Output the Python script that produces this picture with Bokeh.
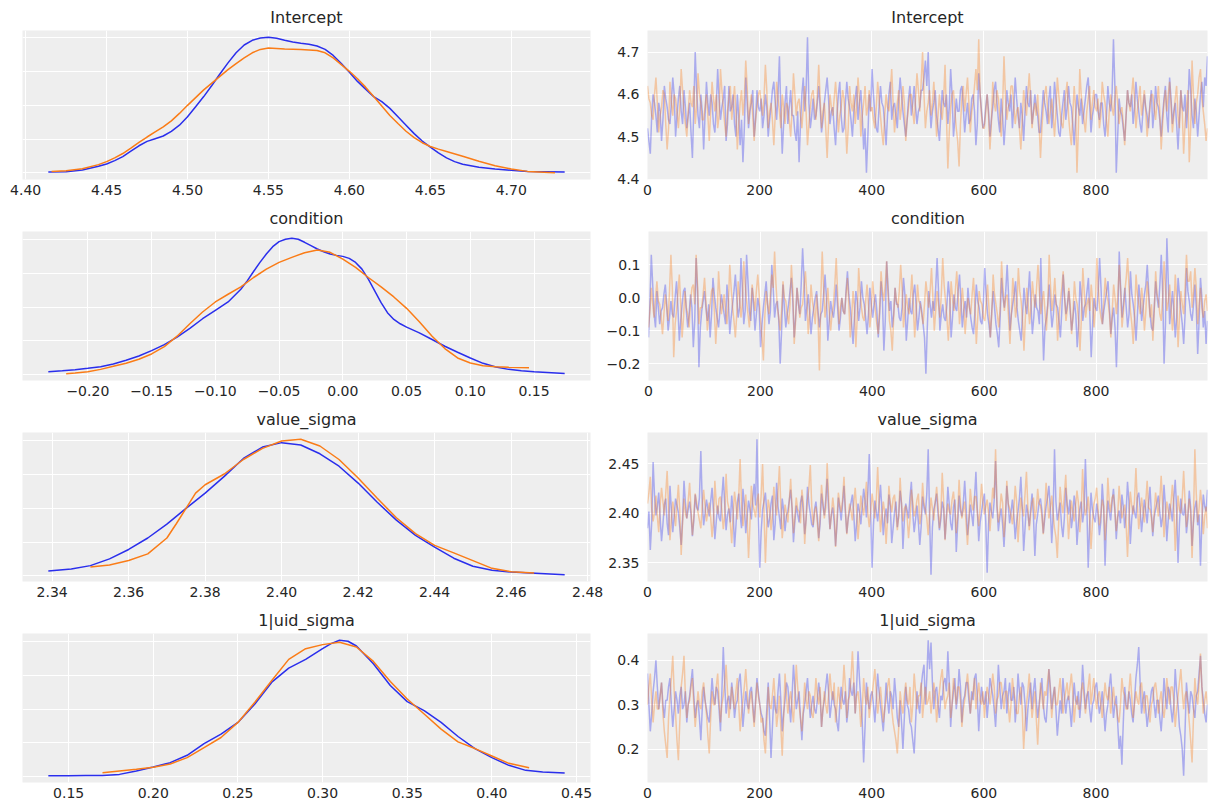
import numpy as np
from bokeh.plotting import figure
from bokeh.layouts import column, row
from bokeh.models import FixedTicker, CustomJSTickFormatter, Range1d
from bokeh.embed import file_html
from bokeh.resources import INLINE

var_names = ["Intercept", "condition", "value_sigma", "1|uid_sigma"]
chain_colors = ["#2a2eec", "#fa7c17"]

# ---------------- KDE curves (x, density) ----------------
kde_intercept_x0 = [4.414,4.425,4.435,4.445,4.45,4.455,4.46,4.465,4.47,4.475,4.48,4.485,4.49,4.495,4.50,4.505,4.51,4.515,4.52,4.525,4.53,4.535,4.54,4.545,4.55,4.555,4.56,4.565,4.57,4.575,4.58,4.585,4.59,4.595,4.60,4.605,4.61,4.615,4.62,4.625,4.63,4.635,4.64,4.645,4.65,4.655,4.66,4.665,4.67,4.68,4.69,4.70,4.71,4.733]
kde_intercept_y0 = [0.04,0.06,0.16,0.38,0.52,0.72,0.96,1.28,1.6,1.86,2.02,2.18,2.46,2.82,3.32,3.92,4.52,5.18,5.86,6.52,7.12,7.58,7.86,8.0,8.04,7.98,7.86,7.76,7.68,7.62,7.52,7.32,6.96,6.48,5.96,5.42,4.96,4.52,4.22,3.82,3.32,2.82,2.32,1.88,1.52,1.18,0.88,0.66,0.5,0.32,0.22,0.14,0.08,0.04]
kde_intercept_x1 = [4.416,4.425,4.435,4.445,4.45,4.455,4.46,4.465,4.47,4.475,4.48,4.485,4.49,4.495,4.50,4.505,4.51,4.515,4.52,4.525,4.53,4.535,4.54,4.545,4.55,4.555,4.56,4.57,4.58,4.585,4.59,4.595,4.60,4.605,4.61,4.615,4.62,4.625,4.63,4.635,4.64,4.645,4.65,4.655,4.66,4.67,4.68,4.69,4.70,4.71,4.727]
kde_intercept_y1 = [0.08,0.12,0.24,0.48,0.66,0.88,1.14,1.46,1.8,2.12,2.42,2.72,3.08,3.52,4.0,4.46,4.92,5.32,5.72,6.12,6.48,6.82,7.12,7.32,7.4,7.38,7.34,7.32,7.26,7.12,6.82,6.42,6.02,5.58,5.08,4.52,3.96,3.4,2.92,2.46,2.08,1.78,1.56,1.4,1.26,0.98,0.68,0.42,0.22,0.08,0.0]

kde_condition_x0 = [-0.231,-0.22,-0.21,-0.20,-0.19,-0.18,-0.17,-0.16,-0.15,-0.14,-0.13,-0.12,-0.11,-0.10,-0.09,-0.08,-0.075,-0.07,-0.065,-0.06,-0.055,-0.05,-0.045,-0.04,-0.035,-0.03,-0.025,-0.02,-0.015,-0.01,-0.005,0.0,0.005,0.01,0.015,0.02,0.025,0.03,0.035,0.04,0.045,0.05,0.06,0.07,0.08,0.09,0.10,0.11,0.12,0.13,0.14,0.15,0.174]
kde_condition_y0 = [0.14,0.2,0.26,0.34,0.44,0.6,0.82,1.08,1.4,1.76,2.2,2.72,3.3,3.8,4.3,5.06,5.56,6.12,6.66,7.16,7.6,7.9,8.04,8.1,8.04,7.86,7.66,7.46,7.3,7.16,7.08,7.02,6.9,6.66,6.26,5.66,4.96,4.26,3.66,3.26,3.0,2.8,2.46,2.06,1.66,1.3,0.96,0.64,0.42,0.28,0.2,0.14,0.04]
kde_condition_x1 = [-0.217,-0.21,-0.20,-0.19,-0.18,-0.17,-0.16,-0.15,-0.14,-0.13,-0.12,-0.11,-0.10,-0.09,-0.08,-0.07,-0.06,-0.05,-0.04,-0.03,-0.02,-0.01,0.0,0.01,0.02,0.03,0.04,0.05,0.06,0.07,0.08,0.09,0.10,0.11,0.12,0.13,0.146]
kde_condition_y1 = [0.02,0.06,0.14,0.28,0.46,0.64,0.88,1.2,1.64,2.26,3.0,3.7,4.3,4.76,5.2,5.76,6.26,6.66,6.96,7.24,7.4,7.26,6.86,6.36,5.76,5.2,4.6,3.92,3.12,2.26,1.52,0.96,0.66,0.5,0.44,0.4,0.38]

kde_vsigma_x0 = [2.339,2.345,2.35,2.355,2.36,2.365,2.37,2.375,2.38,2.385,2.39,2.395,2.40,2.405,2.41,2.415,2.42,2.425,2.43,2.435,2.44,2.445,2.45,2.455,2.46,2.474]
kde_vsigma_y0 = [0.28,0.4,0.6,1.0,1.56,2.24,3.06,4.0,4.9,5.9,6.96,7.64,7.9,7.76,7.24,6.5,5.5,4.36,3.3,2.4,1.7,1.04,0.56,0.32,0.22,0.06]
kde_vsigma_x1 = [2.350,2.355,2.36,2.365,2.37,2.3725,2.375,2.3775,2.38,2.385,2.39,2.395,2.40,2.405,2.41,2.415,2.42,2.425,2.43,2.435,2.44,2.445,2.45,2.455,2.46,2.466]
kde_vsigma_y1 = [0.52,0.64,0.9,1.3,2.24,3.1,4.0,4.9,5.4,6.04,6.9,7.56,8.0,8.1,7.7,6.9,5.8,4.6,3.44,2.5,1.8,1.36,0.9,0.44,0.24,0.16]

kde_uid_x0 = [0.138,0.15,0.16,0.17,0.18,0.19,0.20,0.21,0.22,0.23,0.24,0.25,0.26,0.27,0.28,0.29,0.30,0.305,0.31,0.315,0.32,0.33,0.34,0.35,0.36,0.37,0.38,0.39,0.40,0.41,0.42,0.43,0.443]
kde_uid_y0 = [0.02,0.02,0.04,0.04,0.1,0.3,0.54,0.8,1.24,1.94,2.5,3.2,4.3,5.6,6.44,6.96,7.6,7.9,8.1,8.04,7.76,6.7,5.4,4.44,3.9,3.2,2.36,1.64,1.1,0.64,0.34,0.24,0.18]
kde_uid_x1 = [0.170,0.18,0.19,0.20,0.21,0.22,0.23,0.24,0.25,0.26,0.27,0.28,0.29,0.30,0.31,0.32,0.33,0.34,0.35,0.36,0.37,0.38,0.39,0.40,0.41,0.422]
kde_uid_y1 = [0.2,0.3,0.4,0.52,0.72,1.1,1.7,2.3,3.2,4.4,5.7,6.96,7.6,7.84,7.98,7.7,6.84,5.64,4.6,3.7,2.8,2.04,1.64,1.2,0.76,0.5]

# ---------------- Trace samples (every 2.5th draw) ----------------
trace_intercept_0 = [
    4.52,4.49,4.46,4.55,4.60,4.58,4.55,4.51,4.58,4.56,4.49,4.54,4.62,4.59,4.57,4.54,4.53,4.58,4.64,4.60,4.50,4.55,4.59,4.62,4.56,4.53,4.61,4.57,4.52,4.55,4.58,4.51,4.45,4.57,4.70,4.61,4.55,4.52,4.60,4.56,
    4.47,4.55,4.63,4.58,4.55,4.60,4.58,4.53,4.51,4.57,4.66,4.59,4.54,4.57,4.59,4.62,4.49,4.53,4.62,4.56,4.57,4.60,4.53,4.50,4.60,4.55,4.48,4.54,4.44,4.52,4.64,4.58,4.52,4.56,4.58,4.61,4.50,4.54,4.61,4.57,
    4.56,4.59,4.52,4.55,4.60,4.57,4.50,4.54,4.57,4.61,4.63,4.58,4.54,4.60,4.69,4.56,4.46,4.53,4.58,4.62,4.53,4.57,4.61,4.55,4.55,4.51,4.49,4.56,4.44,4.53,4.60,4.64,4.56,4.61,4.735,4.58,4.52,4.55,4.59,4.54,
    4.55,4.58,4.62,4.57,4.51,4.54,4.58,4.61,4.64,4.59,4.53,4.56,4.57,4.52,4.48,4.55,4.60,4.63,4.55,4.51,4.52,4.58,4.63,4.59,4.57,4.54,4.50,4.56,4.59,4.62,4.54,4.58,4.61,4.55,4.47,4.52,4.415,4.50,4.60,4.56,
    4.66,4.60,4.55,4.52,4.51,4.57,4.62,4.58,4.57,4.53,4.48,4.55,4.60,4.63,4.54,4.57,4.58,4.55,4.52,4.59,4.64,4.60,4.56,4.53,4.50,4.54,4.59,4.62,4.55,4.58,4.62,4.57,4.53,4.56,4.57,4.61,4.61,4.64,4.68,4.62,
    4.70,4.58,4.52,4.56,4.58,4.61,4.55,4.52,4.49,4.55,4.61,4.58,4.57,4.60,4.53,4.57,4.66,4.60,4.50,4.54,4.59,4.56,4.56,4.61,4.62,4.57,4.51,4.55,4.58,4.53,4.54,4.59,4.60,4.56,4.48,4.53,4.65,4.60,4.56,4.52,
    4.53,4.57,4.60,4.56,4.50,4.54,4.57,4.61,4.63,4.58,4.54,4.51,4.59,4.55,4.48,4.53,4.61,4.58,4.56,4.60,4.52,4.57,4.64,4.59,4.55,4.52,4.58,4.55,4.49,4.56,4.62,4.58,4.57,4.61,4.53,4.56,4.60,4.57,4.55,4.51,
    4.51,4.56,4.61,4.58,4.56,4.53,4.59,4.62,4.52,4.56,4.63,4.59,4.55,4.51,4.50,4.55,4.58,4.61,4.54,4.57,4.62,4.58,4.57,4.53,4.48,4.54,4.60,4.57,4.55,4.59,4.53,4.56,4.59,4.62,4.64,4.58,4.51,4.55,4.57,4.60,
    4.60,4.56,4.54,4.58,4.58,4.53,4.50,4.55,4.62,4.58,4.56,4.60,4.73,4.62,4.415,4.50,4.59,4.56,4.55,4.52,4.49,4.55,4.61,4.58,4.57,4.60,4.53,4.57,4.63,4.59,4.56,4.53,4.51,4.56,4.60,4.57,4.55,4.52,4.58,4.61,
    4.52,4.56,4.62,4.58,4.57,4.54,4.50,4.55,4.59,4.62,4.55,4.51,4.64,4.59,4.53,4.56,4.58,4.53,4.47,4.54,4.61,4.57,4.56,4.60,4.52,4.57,4.66,4.61,4.55,4.52,4.59,4.56,4.50,4.55,4.60,4.63,4.57,4.64,4.62,4.69]
trace_intercept_1 = [
    4.62,4.59,4.58,4.55,4.54,4.60,4.64,4.58,4.51,4.55,4.57,4.61,4.60,4.53,4.47,4.52,4.63,4.58,4.55,4.60,4.59,4.56,4.52,4.57,4.66,4.61,4.56,4.53,4.50,4.56,4.61,4.58,4.57,4.62,4.53,4.57,4.65,4.60,4.58,4.54,
    4.54,4.57,4.60,4.55,4.49,4.56,4.63,4.59,4.56,4.60,4.52,4.55,4.66,4.61,4.57,4.53,4.50,4.56,4.59,4.62,4.54,4.58,4.62,4.56,4.47,4.53,4.58,4.61,4.55,4.59,4.68,4.62,4.53,4.57,4.60,4.55,4.49,4.54,4.57,4.60,
    4.61,4.58,4.55,4.59,4.67,4.61,4.52,4.56,4.58,4.54,4.48,4.55,4.63,4.59,4.56,4.52,4.60,4.57,4.53,4.58,4.57,4.54,4.50,4.56,4.65,4.60,4.55,4.58,4.59,4.55,4.52,4.57,4.62,4.56,4.48,4.53,4.57,4.60,4.61,4.57,
    4.54,4.60,4.67,4.59,4.52,4.56,4.58,4.52,4.45,4.53,4.60,4.57,4.55,4.59,4.63,4.58,4.51,4.55,4.57,4.61,4.59,4.54,4.46,4.52,4.62,4.58,4.56,4.60,4.53,4.57,4.64,4.59,4.50,4.55,4.58,4.62,4.55,4.57,4.61,4.56,
    4.57,4.54,4.52,4.57,4.63,4.59,4.55,4.51,4.48,4.55,4.60,4.57,4.56,4.61,4.66,4.58,4.51,4.55,4.58,4.61,4.54,4.57,4.62,4.58,4.49,4.54,4.57,4.60,4.60,4.56,4.53,4.59,4.65,4.61,4.56,4.63,4.70,4.60,4.52,4.56,
    4.58,4.61,4.55,4.58,4.63,4.57,4.50,4.55,4.60,4.56,4.54,4.59,4.67,4.55,4.425,4.51,4.57,4.60,4.61,4.56,4.52,4.49,4.43,4.53,4.59,4.62,4.56,4.60,4.64,4.58,4.51,4.56,4.58,4.62,4.66,4.61,4.73,4.60,4.55,4.52,
    4.52,4.56,4.60,4.55,4.47,4.53,4.63,4.58,4.56,4.61,4.59,4.55,4.50,4.57,4.69,4.60,4.54,4.57,4.58,4.62,4.62,4.57,4.53,4.56,4.57,4.52,4.47,4.54,4.61,4.58,4.55,4.60,4.65,4.59,4.52,4.56,4.58,4.55,4.60,4.53,
    4.45,4.52,4.57,4.60,4.62,4.57,4.53,4.56,4.59,4.55,4.50,4.56,4.64,4.60,4.56,4.53,4.52,4.57,4.60,4.63,4.55,4.51,4.48,4.55,4.62,4.57,4.415,4.52,4.66,4.60,4.57,4.54,4.51,4.56,4.59,4.62,4.54,4.58,4.61,4.57,
    4.56,4.59,4.52,4.55,4.63,4.60,4.58,4.54,4.50,4.56,4.60,4.57,4.55,4.59,4.62,4.58,4.53,4.56,4.57,4.53,4.48,4.55,4.61,4.58,4.56,4.60,4.64,4.59,4.52,4.56,4.59,4.62,4.55,4.58,4.61,4.56,4.50,4.54,4.57,4.60,
    4.60,4.57,4.54,4.58,4.62,4.56,4.47,4.53,4.58,4.61,4.56,4.60,4.63,4.58,4.51,4.55,4.59,4.62,4.55,4.52,4.61,4.56,4.46,4.53,4.57,4.61,4.44,4.52,4.68,4.60,4.53,4.58,4.60,4.64,4.66,4.59,4.56,4.53,4.49,4.52]

trace_condition_0 = [
    -0.12,-0.02,0.13,0.04,-0.05,-0.09,0.02,-0.03,-0.08,-0.04,-0.03,0.01,0.04,-0.02,-0.10,-0.06,-0.01,-0.05,-0.06,0.00,0.05,-0.03,-0.13,-0.07,-0.02,0.02,0.03,-0.04,-0.09,-0.05,0.01,-0.03,-0.15,-0.07,0.12,0.02,-0.21,-0.09,-0.04,-0.01,
    0.02,-0.03,-0.07,-0.02,-0.12,-0.05,0.06,0.01,-0.03,-0.06,-0.09,-0.04,0.01,-0.02,-0.05,-0.08,0.04,-0.01,-0.11,-0.06,-0.02,0.02,0.07,0.00,-0.06,-0.03,0.12,0.03,-0.08,-0.04,0.13,0.05,-0.04,-0.07,0.03,-0.02,-0.10,-0.05,0.00,-0.03,
    -0.15,-0.08,-0.03,0.01,0.05,-0.02,-0.08,-0.04,0.10,0.03,-0.06,-0.02,-0.01,-0.07,-0.20,-0.10,0.04,-0.03,-0.09,-0.05,-0.02,0.02,0.06,-0.01,-0.12,-0.06,0.03,-0.02,-0.05,0.04,0.15,0.06,-0.07,-0.03,0.01,-0.04,-0.11,-0.06,-0.03,0.00,
    0.02,-0.04,-0.09,-0.05,-0.04,0.01,0.07,0.00,-0.13,-0.07,-0.01,-0.04,-0.06,-0.02,0.04,-0.03,-0.10,-0.06,0.00,-0.04,-0.05,0.02,0.08,0.01,-0.03,-0.08,-0.14,-0.06,0.02,-0.01,-0.07,-0.03,0.05,0.00,-0.02,-0.06,-0.11,-0.05,0.03,-0.02,
    -0.06,-0.02,0.01,-0.04,-0.12,-0.05,0.05,-0.01,-0.16,-0.07,0.11,0.03,-0.04,-0.01,-0.09,-0.05,0.03,-0.02,-0.02,-0.06,-0.07,-0.03,0.06,0.01,-0.13,-0.07,0.00,-0.04,-0.05,0.01,0.04,-0.02,-0.10,-0.06,-0.01,-0.04,-0.08,-0.12,-0.23,-0.09,
    0.02,-0.02,-0.06,-0.01,-0.04,0.03,0.12,0.02,-0.10,-0.05,-0.02,-0.06,-0.07,-0.02,0.05,0.00,-0.12,-0.06,0.01,-0.03,-0.04,0.02,0.07,-0.01,-0.09,-0.04,-0.01,-0.06,0.03,-0.02,-0.06,-0.09,-0.11,-0.04,0.04,-0.01,-0.03,-0.07,-0.08,-0.02,
    0.09,0.01,-0.05,-0.08,-0.12,-0.04,0.02,-0.03,-0.08,-0.11,-0.15,-0.06,0.06,0.00,-0.03,0.02,0.10,0.01,-0.10,-0.05,-0.02,0.01,0.05,-0.03,-0.07,-0.10,-0.13,-0.05,0.03,-0.02,-0.05,0.01,0.08,-0.02,-0.11,-0.06,0.01,-0.03,-0.04,-0.08,
    0.12,-0.04,-0.19,-0.09,-0.06,-0.02,0.04,-0.03,-0.09,-0.05,0.01,-0.02,-0.03,-0.07,-0.12,-0.04,0.07,0.00,-0.05,-0.02,0.02,-0.04,-0.10,-0.06,-0.01,-0.05,-0.15,-0.08,0.05,0.00,-0.07,-0.03,-0.02,0.02,0.06,-0.05,-0.18,-0.08,0.00,-0.03,
    -0.04,0.02,0.12,0.03,-0.08,-0.04,-0.01,0.02,0.05,-0.03,-0.11,-0.06,-0.03,-0.09,-0.21,-0.07,0.14,0.03,-0.06,-0.02,0.03,-0.03,-0.09,-0.05,0.08,0.01,-0.02,-0.06,-0.13,-0.05,0.04,-0.01,-0.07,-0.03,0.01,0.04,0.10,0.02,-0.05,-0.09,
    -0.10,-0.03,0.05,0.00,-0.03,0.04,0.13,0.02,-0.20,-0.08,0.18,0.05,-0.08,-0.03,0.02,-0.04,-0.12,-0.06,0.06,0.01,-0.04,-0.08,-0.14,-0.05,0.09,0.02,-0.01,-0.05,-0.07,-0.02,0.04,-0.03,-0.17,-0.07,0.06,0.00,-0.09,-0.04,-0.14,-0.07]
trace_condition_1 = [
    -0.09,-0.04,0.03,-0.02,-0.06,0.00,0.05,-0.01,-0.02,-0.06,-0.11,-0.05,0.01,-0.03,-0.07,0.02,0.13,0.03,-0.18,-0.08,-0.04,0.01,0.07,-0.02,-0.12,-0.06,0.02,-0.03,-0.05,-0.09,-0.01,0.03,0.04,-0.02,0.13,0.04,-0.08,-0.03,-0.03,0.01,
    0.06,-0.01,-0.10,-0.05,-0.02,0.02,0.03,-0.04,-0.14,-0.06,0.08,0.01,-0.05,-0.02,0.01,-0.04,-0.08,-0.02,0.10,0.03,-0.03,-0.07,-0.12,-0.05,0.05,0.00,-0.06,-0.02,0.11,0.04,-0.01,-0.05,-0.09,-0.03,0.04,0.00,-0.04,0.02,0.07,0.01,
    -0.07,-0.12,-0.19,-0.06,0.02,-0.02,-0.05,0.01,0.07,0.03,0.14,0.04,-0.03,-0.06,-0.10,-0.04,0.05,0.00,-0.01,-0.05,-0.08,-0.02,0.10,0.02,-0.14,-0.07,0.03,-0.01,-0.06,-0.03,-0.02,0.03,0.08,0.01,-0.11,-0.05,0.04,-0.01,-0.04,-0.08,
    0.01,-0.06,-0.22,0.00,0.14,0.03,-0.06,-0.02,0.03,-0.04,-0.10,-0.05,-0.02,0.04,0.12,0.01,-0.08,-0.03,0.00,-0.04,-0.05,0.01,0.06,-0.02,-0.12,-0.06,0.02,-0.03,-0.15,-0.06,0.09,0.02,-0.03,-0.06,-0.07,-0.01,0.04,-0.02,-0.09,-0.04,
    0.05,0.00,-0.04,-0.08,-0.11,-0.03,0.08,0.02,-0.01,0.04,0.11,0.01,-0.07,-0.10,-0.16,-0.06,0.03,-0.01,-0.03,0.02,0.10,0.03,-0.09,-0.04,0.01,-0.03,-0.05,0.00,0.07,-0.02,-0.12,-0.05,0.04,-0.01,-0.02,-0.05,-0.08,-0.02,0.05,0.01,
    -0.03,0.02,0.09,0.00,-0.10,-0.04,0.02,-0.02,-0.06,0.01,0.12,0.04,-0.01,-0.06,-0.13,-0.05,0.05,0.00,-0.04,0.02,0.08,0.01,-0.08,-0.03,0.03,-0.02,-0.11,-0.05,0.00,-0.03,-0.05,0.01,0.06,-0.03,-0.14,-0.06,0.02,-0.01,-0.02,-0.06,
    -0.07,-0.02,0.04,-0.03,-0.12,-0.05,0.07,0.01,-0.02,-0.05,-0.09,-0.03,0.11,0.03,-0.04,0.00,0.01,-0.06,-0.14,-0.05,0.06,0.01,-0.06,-0.02,0.09,0.02,-0.01,-0.07,-0.16,-0.06,0.03,-0.02,-0.08,-0.03,0.05,0.00,-0.03,0.03,0.10,0.02,
    -0.05,-0.01,0.02,-0.04,-0.10,-0.02,0.13,0.03,-0.04,0.00,0.06,-0.02,-0.13,-0.06,-0.01,0.03,0.08,0.00,-0.07,-0.03,0.03,-0.02,-0.11,-0.05,0.05,0.00,-0.02,-0.07,-0.16,-0.06,0.09,0.02,-0.06,-0.02,0.00,-0.04,0.04,-0.01,-0.09,-0.03,
    0.12,0.03,-0.03,-0.06,-0.08,-0.01,0.06,0.01,-0.01,-0.05,-0.12,-0.04,0.04,0.00,-0.05,0.01,0.10,0.02,-0.09,-0.04,0.02,0.06,0.12,0.03,-0.04,-0.08,-0.14,-0.05,0.07,0.01,-0.02,-0.05,0.03,-0.02,-0.10,-0.04,0.05,0.00,-0.06,-0.02,
    -0.13,-0.04,0.08,0.01,-0.01,-0.05,-0.07,0.00,0.11,0.03,-0.04,-0.01,0.04,-0.03,-0.10,-0.04,0.07,0.00,-0.15,-0.06,0.02,-0.02,-0.05,0.03,0.13,0.05,0.05,0.08,-0.03,0.02,0.09,0.03,-0.08,-0.02,0.03,-0.03,-0.06,-0.01,0.01,-0.04]

trace_vsigma_0 = [
    2.385,2.402,2.363,2.391,2.452,2.418,2.398,2.407,2.421,2.396,2.372,2.389,2.409,2.415,2.390,2.378,2.428,2.404,2.381,2.397,2.415,2.408,2.401,2.386,2.368,2.394,2.433,2.411,2.395,2.404,2.412,2.399,2.377,2.393,2.419,2.406,2.403,2.416,2.463,2.412,
    2.388,2.400,2.414,2.405,2.397,2.412,2.426,2.403,2.374,2.392,2.408,2.396,2.392,2.417,2.437,2.410,2.383,2.399,2.405,2.391,2.418,2.402,2.366,2.387,2.411,2.420,2.399,2.385,2.425,2.409,2.380,2.397,2.413,2.404,2.394,2.415,2.430,2.408,2.475,2.398,
    2.345,2.382,2.404,2.412,2.421,2.401,2.386,2.395,2.410,2.418,2.373,2.390,2.431,2.407,2.396,2.384,2.415,2.403,2.382,2.398,2.402,2.413,2.424,2.405,2.371,2.392,2.408,2.399,2.391,2.411,2.418,2.402,2.379,2.394,2.427,2.410,2.400,2.389,2.386,2.404,
    2.412,2.397,2.375,2.390,2.420,2.408,2.398,2.414,2.435,2.406,2.384,2.399,2.406,2.392,2.367,2.388,2.416,2.405,2.393,2.410,2.428,2.401,2.380,2.395,2.403,2.411,2.419,2.398,2.372,2.390,2.410,2.402,2.389,2.407,2.425,2.413,2.396,2.421,2.460,2.405,
    2.345,2.388,2.413,2.402,2.392,2.409,2.429,2.404,2.378,2.396,2.405,2.390,2.419,2.407,2.370,2.385,2.401,2.412,2.386,2.398,2.423,2.410,2.364,2.393,2.410,2.403,2.395,2.416,2.432,2.400,2.381,2.394,2.408,2.391,2.368,2.387,2.417,2.406,2.399,2.420,
    2.465,2.395,2.338,2.386,2.404,2.411,2.420,2.400,2.383,2.394,2.412,2.405,2.374,2.397,2.427,2.409,2.390,2.383,2.406,2.414,2.361,2.389,2.418,2.403,2.397,2.410,2.433,2.407,2.378,2.392,2.409,2.399,2.387,2.416,2.442,2.404,2.372,2.391,2.401,2.412,
    2.420,2.392,2.340,2.388,2.411,2.402,2.395,2.413,2.453,2.407,2.382,2.396,2.405,2.389,2.366,2.393,2.428,2.410,2.390,2.401,2.414,2.398,2.374,2.391,2.402,2.415,2.437,2.406,2.362,2.385,2.409,2.400,2.387,2.404,2.420,2.397,2.357,2.389,2.399,2.411,
    2.415,2.403,2.380,2.394,2.407,2.416,2.428,2.405,2.370,2.398,2.465,2.412,2.393,2.401,2.411,2.388,2.376,2.395,2.426,2.409,2.399,2.414,2.385,2.397,2.418,2.406,2.368,2.390,2.404,2.412,2.391,2.402,2.455,2.410,2.345,2.387,2.421,2.404,2.396,2.391,
    2.410,2.399,2.378,2.392,2.430,2.408,2.347,2.389,2.413,2.402,2.393,2.411,2.425,2.404,2.374,2.396,2.403,2.390,2.419,2.407,2.385,2.400,2.432,2.413,2.369,2.394,2.408,2.401,2.395,2.416,2.421,2.405,2.381,2.397,2.414,2.403,2.390,2.409,2.427,2.401,
    2.377,2.396,2.404,2.411,2.418,2.401,2.386,2.397,2.429,2.408,2.372,2.393,2.410,2.402,2.392,2.415,2.434,2.405,2.350,2.389,2.415,2.400,2.398,2.410,2.380,2.394,2.423,2.406,2.367,2.391,2.406,2.413,2.388,2.399,2.347,2.392,2.419,2.407,2.402,2.424]
trace_vsigma_1 = [
    2.410,2.421,2.437,2.405,2.392,2.401,2.418,2.397,2.381,2.408,2.426,2.412,2.398,2.420,2.443,2.406,2.373,2.394,2.412,2.402,2.387,2.409,2.429,2.403,2.358,2.391,2.415,2.400,2.395,2.413,2.431,2.404,2.378,2.396,2.420,2.411,2.401,2.393,2.385,2.407,
    2.424,2.408,2.392,2.402,2.411,2.396,2.376,2.393,2.433,2.410,2.399,2.415,2.417,2.403,2.384,2.397,2.440,2.412,2.405,2.390,2.370,2.398,2.422,2.409,2.394,2.417,2.455,2.411,2.387,2.401,2.419,2.395,2.355,2.389,2.428,2.410,2.403,2.396,2.412,2.420,
    2.396,2.419,2.450,2.403,2.350,2.388,2.414,2.405,2.383,2.398,2.427,2.410,2.398,2.421,2.448,2.407,2.375,2.392,2.409,2.400,2.391,2.412,2.435,2.406,2.380,2.397,2.416,2.404,2.402,2.390,2.424,2.411,2.369,2.395,2.413,2.426,2.449,2.408,2.388,2.401,
    2.407,2.391,2.372,2.399,2.429,2.412,2.395,2.406,2.451,2.417,2.384,2.398,2.416,2.403,2.366,2.392,2.421,2.409,2.401,2.414,2.437,2.405,2.379,2.396,2.410,2.402,2.393,2.411,2.426,2.404,2.374,2.394,2.418,2.407,2.398,2.413,2.432,2.400,2.386,2.403,
    2.420,2.408,2.395,2.413,2.447,2.410,2.381,2.397,2.412,2.401,2.369,2.394,2.428,2.411,2.401,2.415,2.419,2.402,2.383,2.398,2.436,2.409,2.392,2.405,2.408,2.396,2.375,2.393,2.424,2.412,2.397,2.403,2.414,2.420,2.389,2.399,2.431,2.410,2.404,2.395,
    2.378,2.398,2.416,2.405,2.393,2.411,2.427,2.408,2.385,2.400,2.441,2.412,2.373,2.396,2.410,2.402,2.399,2.414,2.422,2.406,2.380,2.397,2.434,2.410,2.395,2.403,2.412,2.390,2.368,2.395,2.425,2.409,2.403,2.417,2.417,2.401,2.387,2.406,2.430,2.412,
    2.399,2.407,2.414,2.401,2.382,2.403,2.426,2.415,2.465,2.409,2.391,2.402,2.420,2.411,2.376,2.396,2.433,2.410,2.405,2.398,2.389,2.404,2.428,2.412,2.371,2.394,2.416,2.405,2.397,2.420,2.442,2.407,2.383,2.399,2.411,2.416,2.394,2.403,2.425,2.410,
    2.408,2.397,2.379,2.402,2.431,2.412,2.395,2.406,2.418,2.399,2.385,2.376,2.355,2.393,2.427,2.410,2.400,2.418,2.439,2.405,2.374,2.396,2.413,2.402,2.392,2.408,2.423,2.411,2.381,2.400,2.445,2.413,2.398,2.405,2.417,2.396,2.364,2.390,2.409,2.415,
    2.426,2.405,2.388,2.399,2.414,2.407,2.373,2.395,2.436,2.412,2.401,2.416,2.419,2.403,2.382,2.397,2.428,2.410,2.395,2.402,2.409,2.390,2.356,2.393,2.422,2.408,2.399,2.413,2.446,2.410,2.384,2.398,2.416,2.404,2.391,2.411,2.433,2.406,2.404,2.396,
    2.381,2.400,2.421,2.409,2.397,2.414,2.438,2.410,2.376,2.398,2.412,2.403,2.394,2.411,2.429,2.406,2.362,2.393,2.418,2.404,2.400,2.415,2.443,2.412,2.386,2.399,2.415,2.402,2.355,2.395,2.465,2.420,2.391,2.405,2.424,2.408,2.379,2.397,2.407,2.385]

trace_uid_0 = [
    0.37,0.30,0.24,0.28,0.33,0.36,0.40,0.34,0.29,0.32,0.35,0.30,0.27,0.31,0.31,0.34,0.36,0.30,0.25,0.29,0.33,0.31,0.28,0.32,0.34,0.29,0.30,0.33,0.26,0.30,0.32,0.35,0.38,0.32,0.27,0.30,0.31,0.27,0.22,0.29,
    0.34,0.31,0.29,0.27,0.26,0.31,0.36,0.32,0.30,0.34,0.33,0.29,0.24,0.33,0.43,0.35,0.28,0.31,0.32,0.29,0.35,0.32,0.27,0.30,0.31,0.35,0.37,0.32,0.25,0.29,0.33,0.30,0.29,0.33,0.34,0.30,0.26,0.31,0.36,0.33,
    0.30,0.28,0.27,0.24,0.23,0.29,0.35,0.27,0.18,0.25,0.32,0.29,0.28,0.33,0.37,0.31,0.24,0.28,0.31,0.35,0.34,0.30,0.26,0.32,0.39,0.34,0.29,0.31,0.33,0.27,0.22,0.28,0.30,0.33,0.36,0.31,0.27,0.30,0.32,0.29,
    0.28,0.31,0.35,0.32,0.25,0.29,0.31,0.34,0.37,0.33,0.27,0.30,0.33,0.30,0.29,0.26,0.24,0.30,0.34,0.31,0.30,0.33,0.26,0.29,0.36,0.33,0.32,0.35,0.28,0.34,0.42,0.36,0.31,0.26,0.17,0.25,0.35,0.31,0.29,0.32,
    0.33,0.30,0.26,0.31,0.37,0.33,0.30,0.27,0.24,0.29,0.35,0.31,0.28,0.33,0.32,0.29,0.36,0.32,0.27,0.25,0.31,0.26,0.20,0.27,0.34,0.30,0.29,0.26,0.25,0.22,0.19,0.26,0.33,0.30,0.28,0.34,0.37,0.39,0.30,0.36,
    0.445,0.38,0.44,0.35,0.29,0.33,0.34,0.30,0.27,0.32,0.31,0.35,0.36,0.33,0.42,0.35,0.25,0.30,0.33,0.36,0.29,0.32,0.38,0.34,0.26,0.31,0.32,0.35,0.35,0.31,0.28,0.33,0.31,0.36,0.37,0.32,0.24,0.30,0.34,0.31,
    0.30,0.33,0.27,0.31,0.36,0.34,0.32,0.29,0.25,0.31,0.39,0.34,0.29,0.32,0.33,0.36,0.28,0.32,0.35,0.31,0.31,0.34,0.26,0.30,0.37,0.33,0.30,0.35,0.34,0.30,0.24,0.29,0.32,0.35,0.29,0.33,0.36,0.31,0.27,0.30,
    0.33,0.36,0.30,0.27,0.26,0.31,0.38,0.34,0.29,0.32,0.34,0.29,0.23,0.27,0.31,0.28,0.36,0.32,0.28,0.31,0.32,0.29,0.25,0.30,0.35,0.31,0.30,0.33,0.27,0.31,0.39,0.34,0.29,0.32,0.33,0.29,0.26,0.30,0.31,0.34,
    0.35,0.31,0.28,0.30,0.33,0.29,0.24,0.28,0.30,0.34,0.37,0.32,0.27,0.30,0.32,0.26,0.20,0.23,0.165,0.26,0.34,0.30,0.29,0.33,0.31,0.28,0.26,0.31,0.36,0.39,0.43,0.35,0.28,0.31,0.33,0.29,0.25,0.28,0.30,0.33,
    0.34,0.30,0.27,0.31,0.31,0.27,0.24,0.29,0.36,0.32,0.29,0.34,0.33,0.29,0.26,0.30,0.38,0.33,0.30,0.25,0.23,0.20,0.14,0.24,0.35,0.31,0.28,0.33,0.32,0.29,0.27,0.32,0.33,0.37,0.41,0.34,0.31,0.28,0.26,0.30]
trace_uid_1 = [
    0.30,0.34,0.37,0.31,0.26,0.30,0.33,0.29,0.29,0.32,0.35,0.28,0.24,0.21,0.18,0.27,0.32,0.36,0.41,0.33,0.28,0.22,0.175,0.26,0.34,0.37,0.41,0.32,0.27,0.30,0.31,0.34,0.36,0.30,0.25,0.29,0.33,0.30,0.29,0.33,
    0.35,0.31,0.28,0.23,0.19,0.27,0.33,0.30,0.30,0.34,0.37,0.31,0.26,0.30,0.32,0.35,0.39,0.33,0.27,0.30,0.34,0.31,0.29,0.33,0.36,0.30,0.24,0.28,0.31,0.34,0.38,0.33,0.28,0.31,0.33,0.29,0.25,0.30,0.35,0.32,
    0.30,0.26,0.27,0.22,0.19,0.26,0.34,0.30,0.29,0.32,0.36,0.31,0.25,0.28,0.32,0.25,0.185,0.27,0.37,0.32,0.28,0.31,0.33,0.29,0.26,0.32,0.39,0.34,0.30,0.27,0.24,0.29,0.35,0.31,0.29,0.33,0.32,0.28,0.27,0.31,
    0.36,0.32,0.30,0.34,0.25,0.29,0.33,0.30,0.28,0.32,0.37,0.33,0.31,0.35,0.26,0.30,0.34,0.31,0.29,0.33,0.39,0.34,0.27,0.31,0.32,0.36,0.42,0.35,0.28,0.32,0.33,0.30,0.25,0.29,0.36,0.32,0.30,0.34,0.27,0.30,
    0.32,0.35,0.38,0.33,0.28,0.31,0.34,0.30,0.26,0.29,0.31,0.34,0.36,0.32,0.29,0.26,0.24,0.22,0.19,0.25,0.33,0.30,0.28,0.32,0.35,0.31,0.30,0.34,0.26,0.30,0.37,0.33,0.29,0.32,0.32,0.35,0.27,0.31,0.34,0.30,
    0.31,0.33,0.28,0.31,0.35,0.32,0.26,0.30,0.33,0.36,0.38,0.33,0.29,0.31,0.32,0.35,0.27,0.30,0.36,0.33,0.30,0.34,0.34,0.31,0.25,0.29,0.31,0.34,0.37,0.33,0.28,0.31,0.33,0.36,0.29,0.32,0.35,0.31,0.30,0.33,
    0.27,0.31,0.34,0.32,0.30,0.33,0.37,0.34,0.28,0.31,0.32,0.35,0.35,0.32,0.29,0.33,0.33,0.30,0.26,0.30,0.36,0.33,0.31,0.28,0.28,0.32,0.34,0.29,0.20,0.26,0.30,0.33,0.37,0.32,0.27,0.30,0.33,0.27,0.21,0.28,
    0.35,0.32,0.29,0.33,0.32,0.35,0.38,0.33,0.27,0.31,0.34,0.30,0.30,0.33,0.36,0.32,0.28,0.31,0.33,0.35,0.31,0.34,0.37,0.33,0.26,0.30,0.32,0.29,0.29,0.33,0.35,0.32,0.28,0.31,0.34,0.37,0.30,0.33,0.36,0.32,
    0.29,0.32,0.33,0.30,0.27,0.31,0.35,0.32,0.31,0.34,0.28,0.31,0.34,0.30,0.30,0.27,0.26,0.30,0.36,0.33,0.32,0.29,0.29,0.33,0.37,0.32,0.27,0.30,0.33,0.31,0.30,0.34,0.35,0.31,0.28,0.32,0.32,0.29,0.26,0.30,
    0.31,0.34,0.35,0.32,0.28,0.31,0.33,0.29,0.27,0.30,0.36,0.33,0.30,0.34,0.34,0.31,0.25,0.29,0.32,0.35,0.38,0.33,0.29,0.32,0.33,0.30,0.26,0.22,0.17,0.27,0.36,0.32,0.30,0.35,0.415,0.34,0.28,0.31,0.33,0.30]

n_draws = 1000

# tick values and label decimals
kde_ticks = [[4.40,4.45,4.50,4.55,4.60,4.65,4.70],
             [-0.20,-0.15,-0.10,-0.05,0.00,0.05,0.10,0.15],
             [2.34,2.36,2.38,2.40,2.42,2.44,2.46,2.48],
             [0.15,0.20,0.25,0.30,0.35,0.40,0.45]]
kde_decimals = [2, 2, 2, 2]
trace_xticks = [0, 200, 400, 600, 800]
trace_yticks = [[4.4,4.5,4.6,4.7], [-0.2,-0.1,0.0,0.1], [2.35,2.40,2.45], [0.2,0.3,0.4]]
trace_ydecimals = [1, 1, 2, 1]

kdes = [
    ((kde_intercept_x0, kde_intercept_y0), (kde_intercept_x1, kde_intercept_y1)),
    ((kde_condition_x0, kde_condition_y0), (kde_condition_x1, kde_condition_y1)),
    ((kde_vsigma_x0, kde_vsigma_y0), (kde_vsigma_x1, kde_vsigma_y1)),
    ((kde_uid_x0, kde_uid_y0), (kde_uid_x1, kde_uid_y1)),
]
traces = [
    (trace_intercept_0, trace_intercept_1),
    (trace_condition_0, trace_condition_1),
    (trace_vsigma_0, trace_vsigma_1),
    (trace_uid_0, trace_uid_1),
]

TEXT = "#262626"
BG = "#eeeeee"
FONT = "DejaVu Sans"

fmt_code = """
const s = Math.abs(tick).toFixed(d);
return (tick < -1e-9 ? "\\u2212" : "") + s;
"""


def padded(lo, hi, frac=0.05):
    r = hi - lo
    return lo - frac * r, hi + frac * r


def style(p, title):
    p.title.text = title
    p.title.align = "center"
    p.title.text_font = FONT
    p.title.text_font_size = "16px"
    p.title.text_font_style = "normal"
    p.title.text_color = TEXT
    p.title.standoff = 7
    p.background_fill_color = BG
    p.border_fill_color = "white"
    p.outline_line_color = None
    for ax in p.axis:
        ax.axis_line_color = None
        ax.major_tick_line_color = None
        ax.minor_tick_line_color = None
        ax.major_tick_out = 0
        ax.major_tick_in = 0
        ax.major_label_text_font = FONT
        ax.major_label_text_font_size = "14px"
        ax.major_label_text_color = TEXT
    for g in p.grid:
        g.grid_line_color = "white"
        g.grid_line_width = 1
        g.minor_grid_line_color = None


rows = []
for i, name in enumerate(var_names):
    last = i == len(var_names) - 1
    h = 206 if last else 201
    bottom = 27 if last else 22
    (bx, by), (ox, oy) = kdes[i]
    xlo, xhi = padded(min(bx + ox), max(bx + ox))
    ylo, yhi = padded(min(by + oy), max(by + oy))
    pk = figure(width=603, height=h, output_backend="svg", toolbar_location=None,
                y_axis_location=None, x_range=Range1d(xlo, xhi), y_range=Range1d(ylo, yhi),
                min_border_left=22, min_border_right=13, min_border_top=30, min_border_bottom=bottom)
    for (xs, ys), c in zip(kdes[i], chain_colors):
        pk.line(xs, ys, line_color=c, line_width=1.5)
    tk = FixedTicker(ticks=kde_ticks[i])
    pk.xaxis.ticker = tk
    pk.xgrid.ticker = tk
    pk.xaxis.formatter = CustomJSTickFormatter(args=dict(d=kde_decimals[i]), code=fmt_code)
    pk.xaxis.major_label_standoff = 5
    style(pk, name)

    t0, t1 = traces[i]
    tlo, thi = padded(min(t0 + t1), max(t0 + t1))
    pt = figure(width=608, height=h, output_backend="svg", toolbar_location=None,
                x_range=Range1d(0, n_draws - 1), y_range=Range1d(tlo, thi),
                min_border_left=44, min_border_right=4, min_border_top=30, min_border_bottom=bottom)
    for ys, c in zip((t0, t1), chain_colors):
        xs = np.linspace(0, n_draws - 1, len(ys))
        pt.line(xs, ys, line_color=c, line_width=1.5, line_alpha=0.35)
    txk = FixedTicker(ticks=trace_xticks)
    tyk = FixedTicker(ticks=trace_yticks[i])
    pt.xaxis.ticker = txk
    pt.xgrid.ticker = txk
    pt.yaxis.ticker = tyk
    pt.ygrid.ticker = tyk
    pt.xaxis.formatter = CustomJSTickFormatter(args=dict(d=0), code=fmt_code)
    pt.yaxis.formatter = CustomJSTickFormatter(args=dict(d=trace_ydecimals[i]), code=fmt_code)
    pt.xaxis.major_label_standoff = 5
    pt.yaxis.major_label_standoff = 8
    style(pt, name)
    rows.append(row(pk, pt, spacing=0))

layout = column(*rows, spacing=0)
open("out.html", "w").write(file_html(layout, INLINE))
